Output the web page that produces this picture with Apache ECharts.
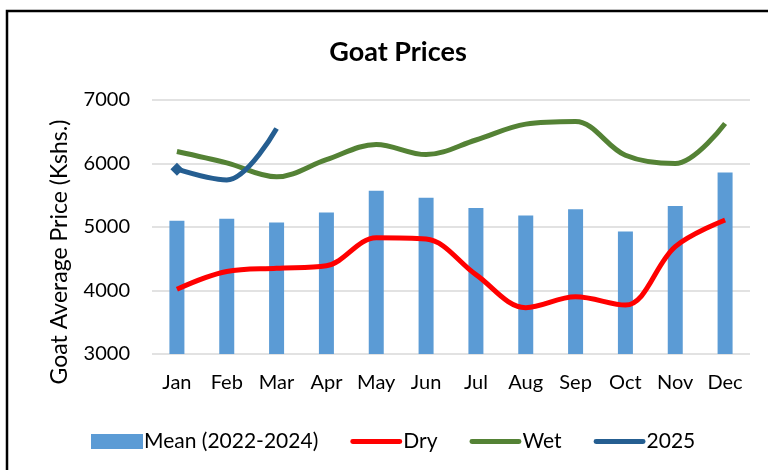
<!DOCTYPE html>
<html>
<head>
<meta charset="utf-8">
<script src="https://cdn.jsdelivr.net/npm/echarts@6/dist/echarts.min.js"></script>
<style>
  html, body { margin: 0; padding: 0; background: #fff; }
  #chart { width: 768px; height: 470px; }
</style>
</head>
<body>
<div id="chart"></div>
<script>
// data
const months = ["Jan", "Feb", "Mar", "Apr", "May", "Jun", "Jul", "Aug", "Sep", "Oct", "Nov", "Dec"];
const meanPrice = [5100, 5130, 5070, 5230, 5570, 5460, 5300, 5180, 5280, 4930, 5330, 5860];
const dryPrice = [4020, 4300, 4350, 4390, 4830, 4810, 4250, 3730, 3900, 3770, 4690, 5110];
const wetPrice = [6190, 6010, 5790, 6060, 6300, 6140, 6370, 6620, 6660, 6130, 6000, 6630];
const price2025 = [5910, 5740, 6550];

const font = "Lato, 'Open Sans', sans-serif";
const chart = echarts.init(document.getElementById("chart"));

// 2025 only has a diamond on its first point
const data2025 = price2025.map((v, i) =>
  i === 0 ? { value: v, symbol: "diamond", symbolSize: 13 } : { value: v }
);

// thin rounded bar used as legend icon for the lines
const lineIcon = "path://M2,0 h48 a2,2 0 0 1 0,5 h-48 a2,2 0 0 1 0,-5 z";

const option = {
  animation: false,
  title: {
    text: "Goat Prices",
    left: 393,
    top: 34,
    textAlign: "center",
    textStyle: { fontFamily: font, fontSize: 27, fontWeight: "bold", color: "#000" },
  },
  legend: {
    left: 86,
    top: 426,
    itemGap: 32,
    itemWidth: 52,
    itemHeight: 15,
    textStyle: { fontFamily: font, fontSize: 21, color: "#000", padding: [0, 0, 0, -4] },
    data: [
      { name: "Mean (2022-2024)", icon: "rect" },
      { name: "Dry", icon: lineIcon },
      { name: "Wet", icon: lineIcon },
      { name: "2025", icon: lineIcon },
    ],
  },
  grid: { left: 152, right: 18, top: 100, bottom: 116 },
  xAxis: {
    type: "category",
    data: months,
    axisLine: { show: false },
    axisTick: { show: false },
    axisLabel: { fontFamily: font, fontSize: 20, color: "#000", margin: 19 },
  },
  yAxis: {
    type: "value",
    min: 3000,
    max: 7000,
    interval: 1000,
    axisLabel: {
      fontFamily: font,
      fontSize: 20,
      color: "#000",
      margin: 22,
      formatter: (v) => String(v),
    },
    splitLine: { lineStyle: { color: "#d9d9d9", width: 1.5 } },
  },
  graphic: [
    {
      type: "rect",
      shape: { x: 7, y: 11, width: 800, height: 520 },
      style: { fill: "none", stroke: "#000", lineWidth: 2.5 },
    },
    {
      type: "text",
      x: 60,
      y: 252,
      rotation: Math.PI / 2,
      style: {
        text: "Goat Average Price (Kshs.)",
        font: "23px " + font,
        fill: "#000",
        textAlign: "center",
        textVerticalAlign: "middle",
      },
    },
  ],
  series: [
    {
      name: "Mean (2022-2024)",
      type: "bar",
      data: meanPrice,
      barWidth: 15,
      itemStyle: { color: "#5B9BD5" },
    },
    {
      name: "Dry",
      type: "line",
      data: dryPrice,
      smooth: 0.35,
      symbol: "none",
      lineStyle: { color: "#FF0000", width: 5 },
      itemStyle: { color: "#FF0000" },
    },
    {
      name: "Wet",
      type: "line",
      data: wetPrice,
      smooth: 0.35,
      symbol: "none",
      lineStyle: { color: "#548235", width: 5 },
      itemStyle: { color: "#548235" },
    },
    {
      name: "2025",
      type: "line",
      data: data2025,
      smooth: 0.35,
      symbol: "none",
      lineStyle: { color: "#255E91", width: 5 },
      itemStyle: { color: "#255E91" },
    },
  ],
};

chart.setOption(option);
</script>
</body>
</html>
